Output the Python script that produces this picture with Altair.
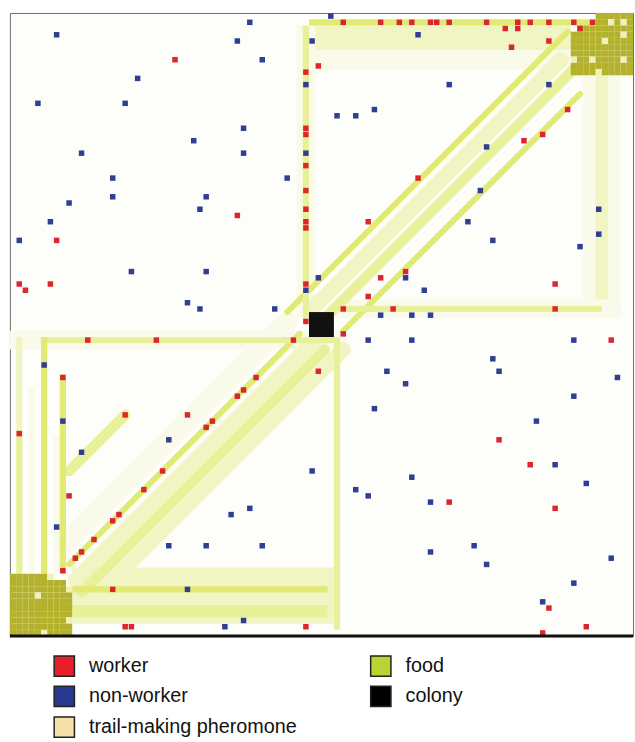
import altair as alt
import pandas as pd

# ---- agents on the 100 x 100 grid: (column, row), row 0 at the top ----
worker_cells = [
    (26, 7), (49, 8), (47, 9), (47, 18), (47, 19), (47, 24), (47, 28), (47, 31),
    (47, 33), (47, 34), (36, 32), (7, 36), (1, 43), (2, 44), (6, 43), (47, 43), (47, 49),
    (53, 1), (59, 1), (62, 1), (64, 1), (67, 1), (68, 1), (70, 1), (76, 1), (81, 1),
    (83, 1), (86, 1), (90, 1), (93, 1), (81, 2), (79, 2), (91, 2), (86, 4), (80, 5),
    (89, 15), (85, 19), (82, 20), (65, 26), (57, 33), (63, 41), (59, 42), (57, 45),
    (87, 43), (53, 47), (61, 47), (87, 47),
    (12, 52), (23, 52), (45, 52), (49, 57), (8, 58), (39, 58), (37, 60), (36, 61),
    (18, 64), (28, 64), (32, 65), (31, 66), (1, 67), (24, 73), (21, 76), (9, 77),
    (17, 80), (16, 81), (13, 84), (11, 86), (10, 87), (8, 89), (16, 92), (18, 98),
    (19, 98), (47, 98),
    (53, 51), (96, 52), (78, 68), (83, 72), (70, 78), (87, 79), (86, 95), (92, 98), (85, 99),
]

nonworker_cells = [
    (7, 3), (38, 1), (36, 4), (48, 4), (40, 7), (20, 10), (4, 14), (18, 14), (37, 18),
    (29, 20), (11, 22), (37, 22), (47, 22), (16, 26), (44, 26), (16, 29), (31, 29),
    (9, 30), (30, 31), (6, 33), (1, 36), (19, 41), (31, 41), (49, 42), (47, 44),
    (28, 46), (30, 47), (42, 47), (47, 11),
    (51, 0), (65, 3), (70, 11), (86, 11), (52, 16), (55, 16), (58, 15), (76, 21),
    (75, 28), (94, 31), (73, 33), (94, 35), (77, 36), (91, 37), (63, 42), (66, 44),
    (59, 48), (64, 48), (67, 48),
    (5, 56), (8, 65), (11, 70), (25, 68), (48, 73), (7, 82), (35, 80), (38, 79),
    (25, 85), (31, 85), (40, 85), (28, 92), (37, 97), (34, 98),
    (57, 52), (64, 52), (90, 52), (77, 55), (60, 57), (78, 57), (97, 58), (63, 59),
    (90, 61), (58, 63), (84, 65), (87, 72), (92, 75), (64, 74), (55, 76), (57, 77),
    (67, 78), (67, 86), (74, 85), (76, 88), (96, 87), (90, 91), (85, 94),
]

# ---- colony block: columns and rows it covers ----
colony_cols = (48, 52)
colony_rows = (48, 52)

# ---- food patches: '#' food left, 'o' food already taken, '.' no food ----
food_patches = {
    (90, 0): [
        "....######",
        "....##o#o#",
        ".#########",
        "########o#",
        "#####o####",
        "##########",
        "##########",
        "o##o####o#",
        "##########",
        "####o#####",
    ],
    (0, 90): [
        "######o...",
        "#########.",
        "#########o",
        "####o#####",
        "##########",
        "##########",
        "##########",
        "#########o",
        "##########",
        "#####o####",
    ],
}

# ---- pheromone trails laid along rows / columns (inclusive cell ranges) ----
band_col_from = [49, 49, 48, 46, 47, 92, 94, 52, 52, 0, 5, 52, 10, 10, 10, 1, 1, 5, 8, 3, 7]
band_col_to   = [89, 89, 94, 48, 47, 97, 95, 97, 94, 52, 52, 52, 51, 50, 50, 1, 1, 5, 8, 3, 7]
band_row_from = [2, 6, 1, 2, 2, 10, 10, 46, 47, 51, 52, 52, 89, 92, 95, 52, 67, 52, 58, 60, 68]
band_row_to   = [5, 8, 1, 48, 48, 48, 47, 48, 47, 53, 52, 98, 97, 92, 96, 66, 89, 89, 89, 89, 89]
band_level    = [1, 0, 3, 0, 2, 0, 1, 0, 2, 0, 2, 2, 1, 3, 2, 1, 2, 3, 3, 0, 0]

# ---- diagonal trails: cells with column + row == diag_sum ----
diag_sum      = [93, 91.5, 95, 98.5, 103.5, 97, 100.5, 103.5, 106.5, 82]
diag_col_from = [8, 44, 48, 50, 53, 9, 10, 11, 12, 9]
diag_col_to   = [44, 89, 88, 90, 91, 46, 49, 50, 53, 18]
diag_level    = [0, 3, 1, 2, 3, 3, 1, 2, 1, 2]

# ---- key (column-major order: left column first) ----
legend_labels = ["worker", "non-worker", "trail-making pheromone", "food", "colony"]
legend_colors = ["#e81f2a", "#29398f", "#f6e0a9", "#b9d433", "#000000"]

trail_levels = [0, 1, 2, 3]
trail_colors = ["#f9faea", "#f1f5c4", "#e9f09a", "#e1ea72"]
trail_widths = [20, 6, 7, 9]

# ---- tables ----
agents = pd.DataFrame(
    [{"c": c, "r": r, "kind": "worker"} for c, r in worker_cells]
    + [{"c": c, "r": r, "kind": "non-worker"} for c, r in nonworker_cells]
)

food_rows = []
for (c0, r0), rows in food_patches.items():
    for dr, line in enumerate(rows):
        for dc, ch in enumerate(line):
            if ch != ".":
                food_rows.append({"c": c0 + dc, "r": r0 + dr,
                                  "state": "food" if ch == "#" else "taken"})
food = pd.DataFrame(food_rows)

bands = pd.DataFrame({
    "c0": band_col_from, "c1": band_col_to,
    "r0": band_row_from, "r1": band_row_to, "level": band_level,
})
diags = pd.DataFrame({
    "s": diag_sum, "c0": diag_col_from, "c1": diag_col_to, "level": diag_level,
})
colony = pd.DataFrame({"c0": [colony_cols[0]], "c1": [colony_cols[1]],
                       "r0": [colony_rows[0]], "r1": [colony_rows[1]]})
key = pd.DataFrame({"item": legend_labels})

xs = alt.Scale(domain=[0, 100], nice=False, zero=False)
ys = alt.Scale(domain=[0, 100], nice=False, zero=False, reverse=True)
trail_color = alt.Color("level:O", scale=alt.Scale(domain=trail_levels, range=trail_colors), legend=None)

band_base = (
    alt.Chart(bands)
    .transform_calculate(x0="datum.c0", x1="datum.c1 + 1", y0="datum.r0", y1="datum.r1 + 1")
    .mark_rect()
    .encode(
        x=alt.X("x0:Q", scale=xs, axis=None),
        x2="x1:Q",
        y=alt.Y("y0:Q", scale=ys, axis=None),
        y2="y1:Q",
        color=trail_color,
    )
)
bands_pale = band_base.transform_filter("datum.level <= 1")
bands_strong = band_base.transform_filter("datum.level >= 2")

stripes = (
    alt.Chart(diags)
    .transform_calculate(
        x0="datum.c0 + 0.5", y0="datum.s - datum.c0 + 0.5",
        x1="datum.c1 + 0.5", y1="datum.s - datum.c1 + 0.5",
    )
    .mark_rule(strokeCap="round")
    .encode(
        x=alt.X("x0:Q", scale=xs, axis=None),
        y=alt.Y("y0:Q", scale=ys, axis=None),
        x2="x1:Q",
        y2="y1:Q",
        color=trail_color,
        strokeWidth=alt.StrokeWidth("level:O", scale=alt.Scale(domain=trail_levels, range=trail_widths), legend=None),
    )
)

food_layer = (
    alt.Chart(food)
    .transform_calculate(x1="datum.c + 1", y1="datum.r + 1")
    .mark_rect()
    .encode(
        x=alt.X("c:Q", scale=xs, axis=None),
        x2="x1:Q",
        y=alt.Y("r:Q", scale=ys, axis=None),
        y2="y1:Q",
        color=alt.Color("state:N", scale=alt.Scale(domain=["food", "taken"], range=["#b4b22c", "#eef2b6"]), legend=None),
    )
)

colony_layer = (
    alt.Chart(colony)
    .mark_rect(color="#111111")
    .encode(
        x=alt.X("c0:Q", scale=xs, axis=None),
        x2="c1:Q",
        y=alt.Y("r0:Q", scale=ys, axis=None),
        y2="r1:Q",
    )
)

agent_layer = (
    alt.Chart(agents)
    .transform_calculate(x0="datum.c + 0.06", x1="datum.c + 0.94", y0="datum.r + 0.06", y1="datum.r + 0.94")
    .mark_rect()
    .encode(
        x=alt.X("x0:Q", scale=xs, axis=None),
        x2="x1:Q",
        y=alt.Y("y0:Q", scale=ys, axis=None),
        y2="y1:Q",
        color=alt.Color("kind:N", scale=alt.Scale(domain=["worker", "non-worker"], range=["#db262e", "#303e93"]), legend=None),
    )
)

floor_line = (
    alt.Chart(pd.DataFrame({"v": [0]}))
    .mark_rule(color="#111111", strokeWidth=3)
    .encode(x=alt.datum(0, scale=xs), x2=alt.datum(100), y=alt.datum(100, scale=ys))
)

key_layer = (
    alt.Chart(key)
    .mark_square(opacity=0, filled=True)
    .encode(
        x=alt.value(0),
        y=alt.value(0),
        color=alt.Color(
            "item:N",
            scale=alt.Scale(domain=legend_labels, range=legend_colors),
            legend=alt.Legend(
                title=None,
                orient="none",
                legendX=44,
                legendY=649,
                columns=2,
                columnPadding=70,
                rowPadding=3,
                padding=0,
                symbolType="square",
                symbolSize=420,
                symbolStrokeColor="#222222",
                symbolStrokeWidth=1.5,
                symbolOpacity=1,
                labelFont="Liberation Sans",
                labelFontSize=20,
                labelColor="#111111",
                labelOffset=14,
                labelLimit=400,
            ),
        ),
    )
)

chart = (
    alt.layer(bands_pale, stripes, bands_strong, food_layer, colony_layer, agent_layer, floor_line, key_layer)
    .resolve_scale(color="independent", strokeWidth="independent")
    .properties(width=630, height=630, padding={"left": 7, "top": 6, "right": 0, "bottom": 0},
                background="#ffffff")
    .configure_view(stroke="#6b6b6b", strokeWidth=1, fill="#fdfdfa")
)

chart.save("out.html", embed_options={"renderer": "svg", "actions": False})
